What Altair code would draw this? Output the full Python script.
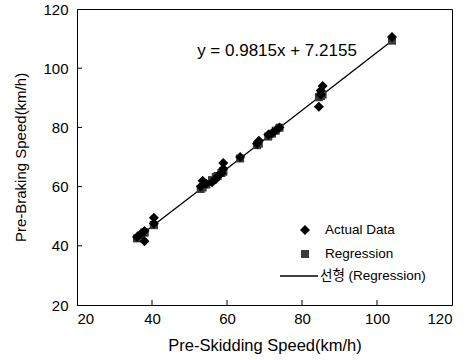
import altair as alt
import pandas as pd

# Data
actual_x = [36, 37, 38, 38, 40.5, 40.5, 53, 53.5, 54.5, 56, 57, 57.5, 58.5, 59, 59,
            63.5, 68, 68.5, 71, 72, 73, 74, 84.5, 85, 85, 85.5, 104]
actual_y = [43, 44, 45, 41.5, 47.5, 49.5, 60, 62, 61, 61.5, 62.5, 63.5, 64.5, 66, 68,
            70, 74.5, 75.5, 77.5, 78, 79, 80, 87, 91, 92.5, 94, 110.5]
regress_y = [42.5, 43.5, 44.5, 44.5, 47.0, 47.0, 59.2, 59.7, 60.7, 62.2, 63.2, 63.6, 64.6,
             65.1, 65.1, 69.5, 74.0, 74.5, 76.9, 77.9, 78.9, 79.9, 90.2, 90.6, 90.6, 91.1, 109.3]
tick_values = [40, 60, 80, 100]
x_ticks = [20, 40, 60, 80, 100, 120]
y_ticks = [20, 40, 60, 80, 100, 120]
equation = "y = 0.9815x + 7.2155"
legend_labels = ["Actual Data", "Regression", "선형 (Regression)"]

W, H = 375, 296
FONT = "Liberation Sans"

df = pd.DataFrame({"x": actual_x, "y": actual_y, "ry": regress_y})
ticks_df = pd.DataFrame({"v": tick_values})
one = pd.DataFrame({"a": [0]})

xscale = alt.Scale(domain=[20, 120], nice=False, zero=False)
yscale = alt.Scale(domain=[20, 120], nice=False, zero=False)

xaxis = alt.Axis(values=x_ticks, title="Pre-Skidding Speed(km/h)", ticks=False, grid=False,
                 labelFontSize=15, labelPadding=6, titleFontSize=16.5, titlePadding=11,
                 domainColor="black", labelColor="black", titleColor="black",
                 labelFont=FONT, titleFont=FONT, titleFontWeight="normal")
yaxis = alt.Axis(values=y_ticks, title="Pre-Braking Speed(km/h)", ticks=False, grid=False,
                 labelFontSize=15, labelPadding=9, titleFontSize=15, titlePadding=14,
                 domainColor="black", labelColor="black", titleColor="black",
                 labelFont=FONT, titleFont=FONT, titleFontWeight="normal")

base = alt.Chart(df)

line = base.mark_line(color="black", strokeWidth=1.3).encode(
    x=alt.X("x:Q", scale=xscale, axis=xaxis),
    y=alt.Y("ry:Q", scale=yscale, axis=yaxis),
    order="x:Q",
)

squares = base.mark_square(color="#3a3a3a", size=64, opacity=1).encode(
    x=alt.X("x:Q", scale=xscale),
    y=alt.Y("ry:Q", scale=yscale),
)

diamonds = base.mark_point(shape="diamond", filled=True, color="black", size=100, opacity=1).encode(
    x=alt.X("x:Q", scale=xscale),
    y=alt.Y("y:Q", scale=yscale),
)

xt = alt.Chart(ticks_df).mark_rule(color="black", strokeWidth=1).encode(
    x=alt.X("v:Q", scale=xscale), y=alt.value(H), y2=alt.value(H - 5))
yt = alt.Chart(ticks_df).mark_rule(color="black", strokeWidth=1).encode(
    y=alt.Y("v:Q", scale=yscale), x=alt.value(0), x2=alt.value(5))

eq = alt.Chart(one).mark_text(text=equation, fontSize=17, font=FONT, align="center",
                              baseline="middle", color="black").encode(
    x=alt.value(200), y=alt.value(42))

leg_d = alt.Chart(one).mark_point(shape="diamond", filled=True, color="black", size=100,
                                  opacity=1).encode(x=alt.value(228), y=alt.value(221))
leg_s = alt.Chart(one).mark_square(color="#3a3a3a", size=64, opacity=1).encode(
    x=alt.value(228), y=alt.value(245))
leg_l = alt.Chart(one).mark_rule(color="black", strokeWidth=1.3).encode(
    x=alt.value(203), x2=alt.value(241), y=alt.value(267))
leg_t1 = alt.Chart(one).mark_text(text=legend_labels[0], fontSize=13.5, font=FONT, align="left",
                                  baseline="middle", color="black").encode(
    x=alt.value(248), y=alt.value(221))
leg_t2 = alt.Chart(one).mark_text(text=legend_labels[1], fontSize=13.5, font=FONT, align="left",
                                  baseline="middle", color="black").encode(
    x=alt.value(248), y=alt.value(245))
leg_t3 = alt.Chart(one).mark_text(text=legend_labels[2], fontSize=13.5,
                                  font="Liberation Sans, Noto Sans CJK KR", align="left",
                                  baseline="middle", color="black").encode(
    x=alt.value(243), y=alt.value(267))

chart = alt.layer(
    line, squares, diamonds, xt, yt, eq, leg_d, leg_s, leg_l, leg_t1, leg_t2, leg_t3
).properties(
    width=W, height=H,
    autosize=alt.AutoSizeParams(type="none"),
    padding={"left": 77, "top": 9, "right": 18, "bottom": 55},
    background="white",
).configure_view(stroke="black", strokeWidth=1)

chart.save("out.html", embed_options={"renderer": "svg", "actions": False})
